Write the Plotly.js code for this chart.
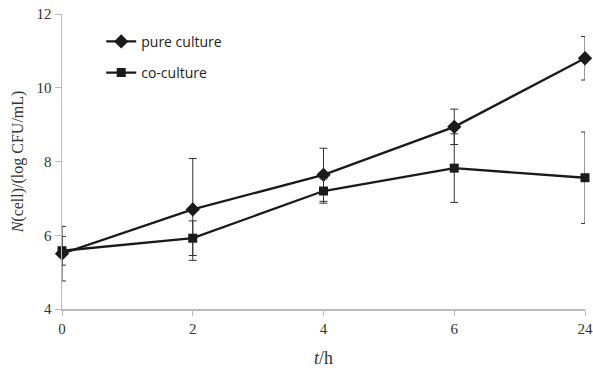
<!DOCTYPE html>
<html><head><meta charset="utf-8">
<script src="https://cdn.plot.ly/plotly-3.0.1.min.js"></script>
<style>html,body{margin:0;padding:0;background:#fff}#chart{width:593px;height:368px}</style>
</head><body><div id="chart"></div>
<script>
var timeLabels = ['0', '2', '4', '6', '24'];
var pureCulture = [5.50, 6.70, 7.64, 8.94, 10.80];
var pureError = [0.74, 1.38, 0.72, 0.48, 0.59];
var coCulture = [5.58, 5.92, 7.20, 7.82, 7.56];
var coError = [0.39, 0.47, 0.33, 0.93, 1.24];
var yTicks = [4, 6, 8, 10, 12];

var serif = 'Liberation Serif, DejaVu Serif, serif';
var sans = 'Open Sans, Liberation Sans, sans-serif';

var traces = [
  {
    x: timeLabels, y: pureCulture, name: 'pure culture', type: 'scatter', mode: 'lines+markers',
    legendgroup: 'a',
    line: {color: '#1a1a1a', width: 2.3},
    marker: {symbol: 'diamond', size: 11, color: '#1a1a1a'},
    error_y: {type: 'data', array: pureError, visible: true, color: '#333', thickness: 1, width: 4},
    cliponaxis: false
  },
  {
    x: timeLabels, y: coCulture, name: 'co-culture', type: 'scatter', mode: 'lines+markers',
    legendgroup: 'b',
    line: {color: '#1a1a1a', width: 2.3},
    marker: {symbol: 'square', size: 9, color: '#1a1a1a'},
    error_y: {type: 'data', array: coError, visible: true, color: '#333', thickness: 1, width: 4},
    cliponaxis: false
  }
];

var layout = {
  width: 593, height: 368,
  margin: {l: 62, r: 8, t: 14, b: 59},
  paper_bgcolor: '#fff', plot_bgcolor: '#fff',
  showlegend: true,
  legend: {x: 0.075, y: 0.96, xanchor: 'left', yanchor: 'top', bgcolor: 'rgba(0,0,0,0)',
           font: {family: sans, size: 14, color: '#222'}, tracegroupgap: 10},
  xaxis: {
    type: 'category', range: [0, 4],
    showline: true, linecolor: '#bbb', linewidth: 1.5,
    ticks: 'outside', ticklen: 5, tickcolor: '#bbb',
    showgrid: false, zeroline: false,
    tickfont: {family: serif, size: 15, color: '#333'},
    title: {text: '<i>t</i>/h', font: {family: serif, size: 18, color: '#333'}, standoff: 18}
  },
  yaxis: {
    range: [4, 12], tickvals: yTicks,
    showline: true, linecolor: '#bbb', linewidth: 1.5,
    ticks: 'outside', ticklen: 6, tickcolor: '#bbb',
    showgrid: false, zeroline: false,
    tickfont: {family: serif, size: 15, color: '#333'},
    title: {text: '<i>N</i>(cell)/(log CFU/mL)', font: {family: serif, size: 16, color: '#333'}, standoff: 9}
  }
};

Plotly.newPlot('chart', traces, layout, {displayModeBar: false, staticPlot: true});
</script>
</body></html>
